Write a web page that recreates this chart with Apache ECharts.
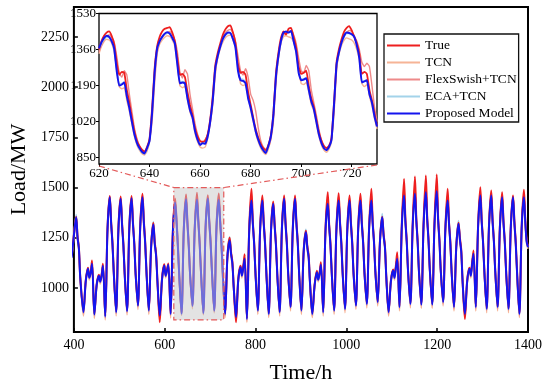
<!DOCTYPE html>
<html><head><meta charset="utf-8">
<script src="https://cdn.jsdelivr.net/npm/echarts@6/dist/echarts.min.js"></script>
<style>html,body{margin:0;padding:0;background:#fff}#c{width:550px;height:390px}</style>
</head><body><div id="c"></div>
<script>
// ---------- data ----------
const seriesNames = ['True', 'TCN', 'FlexSwish+TCN', 'ECA+TCN', 'Proposed Model'];

// main panel: hour of each daily peak, and key points per day at these hour offsets
const peakHours = [405,431,455,479,503,527,551,575,599,623,647,671,695,719,743,767,791,815,839,863,887,911,935,959,983,1007,1031,1055,1079,1103,1127,1151,1175,1199,1223,1247,1271,1295,1319,1343,1367,1391];
const dayOffsets = [-10, -5, 0, 3, 6, 9];

const mainProposed = [
[1150,1260,1352,1250,1195,1050],[879,1030,1095,1050,1075,1120],[867,1010,1060,1030,1060,1110],
[857,1290,1452,1320,1215,1065],[879,1290,1444,1315,1210,1060],[884,1295,1447,1320,1215,1065],
[912,1300,1452,1325,1220,1070],[887,1200,1316,1220,1160,1030],[862,1040,1111,1060,1085,1115],
[870,1280,1425,1330,1205,1060],[871,1290,1442,1320,1205,1060],[910,1290,1440,1330,1215,1070],
[874,1300,1445,1330,1225,1080],[886,1300,1439,1330,1215,1060],[870,1150,1236,1170,1120,1000],
[855,1040,1103,1060,1100,1145],[845,1280,1435,1320,1215,1065],[887,1285,1435,1320,1215,1065],
[870,1280,1419,1310,1210,1060],[879,1290,1444,1320,1215,1065],[904,1290,1444,1320,1220,1070],
[887,1180,1277,1200,1150,1020],[870,1010,1078,1040,1070,1115],[879,1280,1419,1310,1210,1065],
[887,1285,1435,1320,1215,1065],[895,1285,1435,1320,1215,1065],[912,1290,1435,1320,1220,1070],
[920,1290,1435,1320,1220,1075],[929,1230,1352,1260,1200,1050],[879,1030,1086,1050,1100,1145],
[904,1300,1460,1330,1225,1075],[920,1305,1469,1335,1225,1075],[917,1310,1477,1340,1230,1080],
[917,1310,1482,1340,1230,1080],[929,1290,1435,1320,1220,1070],[904,1200,1319,1240,1180,1030],
[870,1030,1095,1060,1120,1170],[904,1300,1460,1330,1225,1075],[895,1300,1460,1330,1225,1075],
[904,1295,1452,1325,1220,1070],[895,1295,1452,1325,1220,1070],[870,1295,1452,1330,1230,1203]
];
const mainTrue = [
[1160,1265,1355,1258,1200,1055],[885,1035,1100,1055,1080,1136],[872,1015,1065,1035,1065,1120],
[862,1295,1458,1330,1225,1070],[884,1295,1455,1325,1220,1065],[888,1300,1458,1330,1225,1070],
[915,1305,1469,1335,1230,1075],[892,1205,1325,1230,1170,1035],[829,1045,1118,1065,1092,1122],
[875,1285,1445,1340,1215,1065],[876,1295,1466,1330,1215,1065],[915,1295,1474,1340,1225,1075],
[880,1305,1462,1340,1235,1085],[890,1305,1470,1340,1225,1065],[875,1155,1250,1180,1130,1005],
[829,1045,1110,1068,1110,1168],[850,1290,1494,1330,1225,1070],[892,1290,1460,1330,1225,1070],
[875,1285,1430,1320,1220,1065],[884,1295,1460,1330,1225,1070],[908,1295,1460,1330,1230,1075],
[892,1185,1285,1210,1160,1025],[875,1015,1085,1045,1076,1128],[884,1290,1477,1320,1220,1070],
[892,1290,1472,1330,1225,1070],[900,1290,1460,1330,1225,1070],[916,1295,1469,1330,1230,1075],
[925,1295,1494,1330,1230,1080],[933,1235,1355,1268,1208,1055],[884,1035,1092,1058,1110,1178],
[910,1310,1543,1345,1235,1080],[925,1315,1555,1350,1235,1080],[922,1320,1560,1355,1240,1085],
[922,1320,1565,1355,1240,1085],[933,1295,1494,1330,1230,1075],[908,1205,1325,1250,1190,1035],
[845,1035,1100,1068,1130,1186],[908,1305,1502,1340,1235,1080],[900,1305,1485,1340,1235,1080],
[908,1300,1477,1335,1230,1075],[900,1300,1460,1335,1230,1075],[875,1300,1489,1340,1240,1208]
];
const mainTCN = [
[1140,1250,1345,1240,1185,1040],[860,1020,1085,1040,1065,1115],[848,1000,1055,1020,1050,1105],
[840,1280,1455,1315,1205,1055],[860,1280,1448,1310,1200,1050],[865,1285,1450,1315,1205,1055],
[892,1290,1460,1320,1210,1060],[868,1190,1320,1210,1150,1020],[845,1030,1105,1050,1075,1105],
[850,1270,1408,1310,1185,1050],[862,1280,1425,1300,1185,1045],[895,1280,1428,1310,1200,1055],
[865,1290,1425,1310,1200,1070],[875,1290,1415,1310,1195,1050],[852,1140,1240,1160,1110,990],
[838,1030,1100,1050,1090,1135],[828,1270,1440,1310,1205,1055],[868,1275,1440,1310,1205,1055],
[852,1270,1425,1300,1200,1050],[860,1280,1450,1310,1205,1055],[885,1280,1450,1310,1210,1060],
[868,1170,1282,1190,1140,1010],[852,1000,1072,1030,1060,1105],[860,1270,1430,1300,1200,1055],
[868,1275,1445,1310,1205,1055],[876,1275,1440,1310,1205,1055],[893,1280,1442,1310,1210,1060],
[900,1280,1448,1310,1210,1065],[910,1220,1350,1250,1190,1040],[860,1020,1080,1040,1090,1140],
[885,1290,1480,1320,1215,1065],[900,1295,1490,1325,1215,1065],[898,1300,1495,1330,1220,1070],
[898,1300,1500,1330,1220,1070],[910,1280,1450,1310,1210,1060],[885,1190,1320,1230,1170,1020],
[852,1020,1090,1050,1110,1160],[885,1290,1470,1320,1215,1065],[876,1290,1470,1320,1215,1065],
[885,1285,1462,1315,1210,1060],[876,1285,1458,1315,1210,1060],[852,1285,1465,1320,1220,1195]
];
const mainFlex = [
[1150,1262,1350,1255,1200,1052],[872,1032,1092,1053,1078,1125],[860,1012,1063,1033,1063,1114],
[850,1292,1456,1328,1222,1068],[872,1292,1450,1322,1218,1063],[876,1297,1452,1328,1222,1068],
[904,1302,1462,1332,1228,1073],[880,1202,1322,1228,1168,1033],[848,1042,1115,1066,1090,1118],
[862,1282,1430,1338,1212,1063],[865,1292,1445,1328,1212,1063],[905,1292,1455,1338,1222,1073],
[868,1302,1450,1338,1232,1083],[880,1302,1450,1338,1222,1063],[862,1152,1245,1178,1128,1004],
[840,1042,1106,1066,1106,1150],[838,1282,1465,1328,1222,1068],[880,1287,1450,1328,1222,1068],
[862,1282,1428,1318,1217,1063],[872,1292,1455,1328,1222,1068],[896,1292,1455,1328,1227,1073],
[880,1182,1282,1208,1157,1023],[862,1012,1080,1044,1074,1118],[872,1282,1450,1318,1217,1068],
[880,1287,1455,1328,1222,1068],[888,1287,1450,1328,1222,1068],[905,1292,1455,1328,1227,1073],
[912,1292,1465,1328,1227,1078],[920,1232,1355,1266,1207,1053],[870,1032,1088,1056,1106,1150],
[896,1302,1505,1338,1232,1078],[912,1307,1515,1343,1232,1078],[910,1312,1520,1348,1237,1083],
[910,1312,1525,1348,1237,1083],[920,1292,1465,1328,1227,1073],[895,1202,1322,1247,1187,1033],
[860,1032,1098,1066,1126,1176],[896,1302,1480,1338,1232,1078],[888,1302,1472,1338,1232,1078],
[896,1297,1465,1333,1227,1073],[888,1297,1455,1333,1227,1073],[862,1297,1470,1338,1236,1205]
];
const mainECA = [
[1155,1268,1365,1255,1200,1055],[877,1032,1098,1052,1078,1125],[865,1012,1062,1032,1062,1112],
[855,1292,1450,1322,1218,1066],[877,1292,1442,1318,1212,1062],[882,1296,1446,1322,1218,1066],
[910,1302,1450,1328,1222,1072],[885,1210,1330,1228,1165,1032],[860,1042,1115,1062,1088,1118],
[868,1282,1418,1332,1208,1062],[868,1292,1438,1322,1208,1062],[915,1292,1436,1332,1220,1072],
[875,1302,1442,1332,1228,1082],[886,1302,1435,1332,1218,1062],[868,1160,1255,1178,1125,1002],
[852,1042,1108,1062,1102,1150],[843,1282,1433,1322,1218,1066],[885,1287,1433,1322,1218,1066],
[868,1282,1418,1312,1212,1062],[877,1292,1442,1322,1218,1066],[902,1292,1442,1322,1222,1072],
[885,1190,1292,1210,1155,1022],[868,1012,1082,1042,1075,1120],[877,1282,1418,1312,1212,1066],
[885,1287,1433,1322,1218,1066],[893,1287,1433,1322,1218,1066],[910,1292,1433,1322,1222,1072],
[918,1292,1433,1322,1222,1076],[927,1240,1370,1265,1205,1052],[877,1032,1090,1052,1102,1150],
[902,1302,1458,1332,1228,1076],[918,1307,1467,1337,1228,1076],[915,1312,1475,1342,1232,1082],
[915,1312,1480,1342,1232,1082],[927,1292,1433,1322,1222,1072],[902,1210,1335,1245,1185,1032],
[868,1032,1100,1062,1125,1175],[902,1302,1458,1332,1228,1076],[893,1302,1458,1332,1228,1076],
[902,1297,1450,1327,1222,1072],[893,1297,1450,1327,1222,1072],[868,1297,1450,1332,1232,1203]
];

// inset panel: hourly values from hour 620 to 730
const zoomStartHour = 620;
const zoomTrue = [
1360,1400,1425,1440,1446,1425,1385,1300,1240,1255,
1250,1170,1110,1040,975,930,905,888,880,900,
940,1080,1270,1375,1420,1445,1458,1462,1466,1440,
1400,1320,1240,1245,1230,1160,1100,1050,990,950,
928,925,930,960,1030,1140,1285,1345,1390,1430,
1455,1470,1474,1440,1390,1290,1250,1255,1240,1160,
1100,1040,985,945,915,895,885,910,955,1060,
1245,1345,1415,1445,1430,1458,1462,1420,1370,1280,
1245,1250,1260,1190,1130,1090,1030,970,930,905,
895,905,945,1110,1300,1365,1410,1445,1462,1470,
1450,1420,1390,1340,1245,1255,1245,1170,1120,1060,
1000];
const zoomTCN = [
1340,1375,1398,1408,1405,1390,1350,1270,1185,1175,
1180,1120,1070,1010,950,910,885,868,862,880,
925,1050,1235,1345,1385,1405,1418,1425,1422,1405,
1375,1290,1190,1180,1185,1125,1065,1030,965,925,
900,895,900,940,1010,1110,1255,1320,1365,1395,
1415,1425,1428,1405,1365,1275,1200,1190,1195,1135,
1075,1020,965,925,895,875,865,890,940,1040,
1220,1320,1390,1420,1425,1420,1415,1395,1345,1260,
1200,1195,1205,1160,1100,1070,1010,950,910,885,
875,890,925,1085,1275,1340,1380,1405,1415,1410,
1405,1390,1360,1310,1200,1185,1195,1140,1095,1035,
985];
const zoomFlex = [
1350,1380,1405,1420,1430,1418,1395,1330,1250,1230,
1260,1240,1150,1070,990,940,905,885,875,885,
930,1020,1200,1340,1395,1420,1430,1438,1445,1430,
1405,1350,1255,1225,1265,1245,1150,1080,1010,960,
930,922,935,960,1010,1100,1240,1330,1380,1415,
1440,1450,1455,1440,1400,1330,1260,1240,1270,1230,
1150,1120,1070,990,930,900,890,900,935,1020,
1200,1320,1395,1430,1440,1445,1450,1430,1390,1320,
1260,1250,1285,1260,1170,1110,1050,985,935,905,
895,900,935,1060,1260,1350,1395,1425,1440,1450,
1445,1425,1400,1360,1300,1280,1295,1280,1190,1090,
1020];
const zoomECA = [
1360,1388,1408,1418,1416,1398,1362,1265,1198,1200,
1208,1145,1090,1025,962,918,890,874,868,890,
928,1065,1255,1362,1398,1418,1430,1438,1434,1414,
1388,1295,1208,1210,1206,1136,1080,1042,978,938,
915,920,920,952,1022,1125,1272,1332,1374,1406,
1426,1436,1436,1410,1372,1265,1222,1220,1206,1135,
1088,1032,978,938,906,886,875,904,948,1052,
1232,1330,1398,1436,1442,1440,1444,1402,1352,1255,
1220,1222,1228,1172,1118,1082,1022,962,922,896,
886,898,932,1098,1288,1348,1392,1420,1435,1435,
1430,1418,1382,1325,1210,1212,1218,1152,1112,1048,
998];
const zoomProposed = [
1366,1395,1415,1425,1420,1400,1365,1260,1190,1195,
1205,1140,1085,1020,960,920,895,878,870,895,
930,1060,1250,1365,1400,1420,1435,1442,1435,1415,
1390,1290,1200,1205,1200,1130,1075,1040,975,935,
910,918,915,950,1020,1120,1270,1330,1375,1410,
1430,1440,1438,1410,1370,1260,1215,1212,1200,1130,
1085,1030,975,935,905,885,872,905,950,1050,
1230,1330,1400,1440,1445,1440,1448,1400,1350,1250,
1215,1218,1225,1170,1115,1080,1020,960,920,895,
885,900,935,1100,1290,1350,1395,1425,1440,1438,
1432,1420,1380,1320,1205,1210,1215,1150,1110,1045,
997];

// axes
const mainXRange = [400, 1400];
const mainYRange = [780, 2400];
const mainYTicks = [1000, 1250, 1500, 1750, 2000, 2250];
const zoomXRange = [620, 730];
const zoomXTicks = [620, 640, 660, 680, 700, 720];
const zoomYRange = [820, 1530];
const zoomYTicks = [850, 1020, 1190, 1360, 1530];
// highlighted window on the main panel (data units)
const zoomWindow = {x0: 620, x1: 730, y0: 840, y1: 1500};

// ---------- chart ----------
const colors = {
  'True': '#ee1f1f',
  'TCN': '#f6b496',
  'FlexSwish+TCN': '#ee8a8a',
  'ECA+TCN': '#a3d3ea',
  'Proposed Model': '#1414ee'
};
const FONT = 'Liberation Serif';
const drawOrder = ['TCN', 'FlexSwish+TCN', 'ECA+TCN', 'True', 'Proposed Model'];
const mainData = {'True': mainTrue, 'TCN': mainTCN, 'FlexSwish+TCN': mainFlex, 'ECA+TCN': mainECA, 'Proposed Model': mainProposed};
const zoomData = {'True': zoomTrue, 'TCN': zoomTCN, 'FlexSwish+TCN': zoomFlex, 'ECA+TCN': zoomECA, 'Proposed Model': zoomProposed};

function mainPoints(rows) {
  const pts = [];
  rows.forEach((r, k) => r.forEach((v, j) => pts.push([peakHours[k] + dayOffsets[j], v])));
  return pts;
}
function zoomPoints(vals) { return vals.map((v, i) => [zoomStartHour + i, v]); }

const widthMain = {'True': 2, 'TCN': 1.6, 'FlexSwish+TCN': 1.6, 'ECA+TCN': 1.6, 'Proposed Model': 2};
const widthZoom = {'True': 1.8, 'TCN': 1.4, 'FlexSwish+TCN': 1.4, 'ECA+TCN': 1.4, 'Proposed Model': 2};

const series = [];
drawOrder.forEach(n => series.push({
  name: n, type: 'line', xAxisIndex: 0, yAxisIndex: 0, data: mainPoints(mainData[n]),
  showSymbol: false, symbol: 'none', smooth: 0.3, color: colors[n],
  lineStyle: {width: widthMain[n], color: colors[n]}, emphasis: {disabled: true}
}));
drawOrder.forEach(n => series.push({
  name: n, type: 'line', xAxisIndex: 1, yAxisIndex: 1, data: zoomPoints(zoomData[n]),
  showSymbol: false, symbol: 'none', smooth: 0.15, color: colors[n],
  lineStyle: {width: widthZoom[n], color: colors[n]}, emphasis: {disabled: true}
}));

const lbl = (size) => ({color: '#000', fontFamily: FONT, fontSize: size});
const chart = echarts.init(document.getElementById('c'), null, {renderer: 'canvas'});
chart.setOption({
  animation: false,
  backgroundColor: '#fff',
  grid: [
    {left: 65, top: 7, width: 463, height: 325, show: true, borderColor: '#000', borderWidth: 2, backgroundColor: 'transparent'},
    {left: 99, top: 13.5, width: 278, height: 150.5, show: true, borderColor: '#000', borderWidth: 1.3, backgroundColor: '#fff', z: 3}
  ],
  legend: {
    data: seriesNames, orient: 'vertical', left: 384, top: 34,
    icon: 'rect', itemWidth: 33, itemHeight: 2.2, itemGap: 2,
    padding: [4, 2, 1, 3],
    borderColor: '#111', borderWidth: 1.3, backgroundColor: '#fff',
    textStyle: Object.assign(lbl(13.5), {lineHeight: 15}), selectedMode: false
  },
  xAxis: [
    {type: 'value', gridIndex: 0, min: mainXRange[0], max: mainXRange[1], interval: 200,
     name: 'Time/h', nameLocation: 'middle', nameGap: 30, nameTextStyle: lbl(22),
     axisLine: {show: false}, splitLine: {show: false},
     axisTick: {inside: true, length: 4, lineStyle: {color: '#000', width: 1.5}},
     axisLabel: Object.assign(lbl(14), {margin: 6, formatter: v => String(v)})},
    {type: 'value', gridIndex: 1, min: zoomXRange[0], max: zoomXRange[1], interval: 20,
     axisLine: {show: false}, splitLine: {show: false},
     axisTick: {inside: false, length: 3, lineStyle: {color: '#000', width: 1}, customValues: zoomXTicks},
     axisLabel: Object.assign(lbl(13), {margin: 3, customValues: zoomXTicks, formatter: v => String(v)})}
  ],
  yAxis: [
    {type: 'value', gridIndex: 0, min: mainYRange[0], max: mainYRange[1],
     name: 'Load/MW', nameLocation: 'middle', nameGap: 41, nameTextStyle: lbl(22),
     axisLine: {show: false}, splitLine: {show: false},
     axisTick: {inside: true, length: 4, lineStyle: {color: '#000', width: 1.5}, customValues: mainYTicks},
     axisLabel: Object.assign(lbl(14), {margin: 5, customValues: mainYTicks, formatter: v => String(v)})},
    {type: 'value', gridIndex: 1, min: zoomYRange[0], max: zoomYRange[1],
     axisLine: {show: false}, splitLine: {show: false},
     axisTick: {inside: false, length: 3, lineStyle: {color: '#000', width: 1}, customValues: zoomYTicks},
     axisLabel: Object.assign(lbl(13), {margin: 3, customValues: zoomYTicks, formatter: v => String(v)})}
  ],
  series: series
});

const px = (g, v) => chart.convertToPixel({gridIndex: g}, v);
const tl = px(0, [zoomWindow.x0, zoomWindow.y1]);
const br = px(0, [zoomWindow.x1, zoomWindow.y0]);
const insetBL = px(1, [zoomXRange[0], zoomYRange[0]]);
const insetBR = px(1, [zoomXRange[1], zoomYRange[0]]);
const dash = [6, 3, 1.5, 3];
const red = '#e35a5a';
chart.setOption({graphic: [
  {type: 'rect', z: 100, silent: true,
   shape: {x: tl[0], y: tl[1], width: br[0] - tl[0], height: br[1] - tl[1]},
   style: {fill: 'rgba(200,200,200,0.5)', stroke: red, lineWidth: 1.2, lineDash: dash}},
  {type: 'line', z: 100, silent: true,
   shape: {x1: insetBL[0], y1: insetBL[1] + 2, x2: tl[0], y2: tl[1]},
   style: {stroke: red, lineWidth: 1.2, lineDash: dash}},
  {type: 'line', z: 100, silent: true,
   shape: {x1: insetBR[0], y1: insetBR[1] + 1, x2: br[0], y2: tl[1]},
   style: {stroke: red, lineWidth: 1.2, lineDash: dash}}
]});
</script>
</body></html>
